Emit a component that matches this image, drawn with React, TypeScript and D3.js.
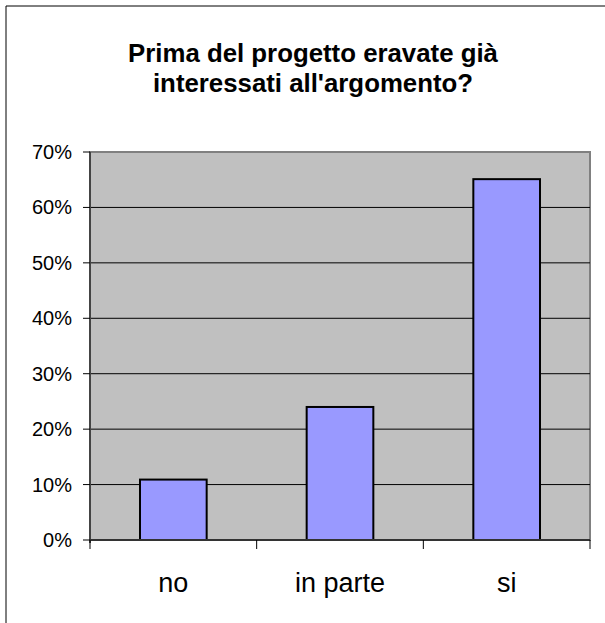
import React from 'react'
import * as d3 from 'd3'

const categories = ['no', 'in parte', 'si']
const values = [0.109, 0.24, 0.651]
const yTicks = [0, 0.1, 0.2, 0.3, 0.4, 0.5, 0.6, 0.7]
const titleLines = ['Prima del progetto eravate già', "interessati all'argomento?"]

const width = 605
const height = 623
const plot = { left: 90, right: 590, top: 152, bottom: 540 }
const font = "'Liberation Sans', Arial, sans-serif"

const xScale = d3.scaleBand()
  .domain(categories)
  .range([plot.left, plot.right])
  .paddingInner(0.6)
  .paddingOuter(0.3)

const yScale = d3.scaleLinear()
  .domain([0, 0.7])
  .range([plot.bottom, plot.top])

const pct = d3.format('.0%')

export default function App() {
  // category boundaries for the x ticks
  const xTickPos = d3.range(categories.length + 1).map(i => plot.left + i * (plot.right - plot.left) / categories.length)

  return (
    <svg width={width} height={height} style={{ position: 'absolute', left: 0, top: 0 }}>
      <rect x={0} y={0} width={width} height={height} fill='#ffffff' />
      {/* outer frame, only top and left visible */}
      <line x1={6} y1={6} x2={width} y2={6} stroke='#000' strokeWidth={1} />
      <line x1={6} y1={6} x2={6} y2={height} stroke='#000' strokeWidth={1} />

      {titleLines.map((t, i) => (
        <text key={t} x={313} y={62 + i * 30} textAnchor='middle'
          fontFamily={font} fontWeight='bold' fontSize={25.8} fill='#000'>{t}</text>
      ))}

      <rect x={plot.left} y={plot.top} width={plot.right - plot.left} height={plot.bottom - plot.top}
        fill='#c0c0c0' stroke='#808080' strokeWidth={2} />

      {yTicks.filter(t => t > 0 && t < 0.7).map(t => (
        <line key={t} x1={plot.left} x2={plot.right} y1={yScale(t)} y2={yScale(t)} stroke='#000' strokeWidth={1} />
      ))}

      {categories.map((c, i) => (
        <rect key={c} x={xScale(c)} y={yScale(values[i])} width={xScale.bandwidth()}
          height={plot.bottom - yScale(values[i])} fill='#9999ff' stroke='#000' strokeWidth={2} />
      ))}

      {/* axes */}
      <line x1={plot.left} x2={plot.left} y1={plot.top} y2={plot.bottom + 3} stroke='#444' strokeWidth={2} />
      <line x1={plot.left} x2={plot.right} y1={plot.bottom} y2={plot.bottom} stroke='#333' strokeWidth={2} />

      {yTicks.map(t => (
        <g key={t}>
          <line x1={plot.left - 7} x2={plot.left} y1={yScale(t)} y2={yScale(t)} stroke='#000' strokeWidth={1} />
          <text x={72} y={yScale(t) + 7} textAnchor='end' fontFamily={font} fontSize={20} fill='#000'>{pct(t)}</text>
        </g>
      ))}

      {xTickPos.map((x, i) => (
        <line key={i} x1={x} x2={x} y1={plot.bottom} y2={plot.bottom + 9} stroke='#000' strokeWidth={1} />
      ))}

      {categories.map(c => (
        <text key={c} x={(xScale(c) ?? 0) + xScale.bandwidth() / 2} y={592} textAnchor='middle'
          fontFamily={font} fontSize={27} fill='#000'>{c}</text>
      ))}
    </svg>
  )
}
